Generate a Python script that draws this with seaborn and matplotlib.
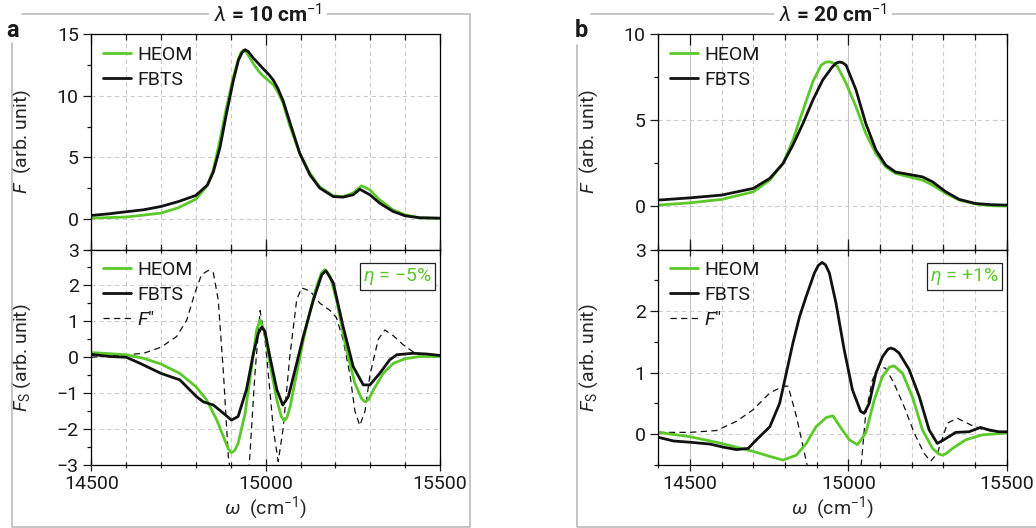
import numpy as np
import pandas as pd
import seaborn as sns
import matplotlib.pyplot as plt
from matplotlib.lines import Line2D
from matplotlib.ticker import MultipleLocator

# ---- panel a, top: F ----
a_top_heom_x = [14500, 14600, 14700, 14750, 14800, 14833, 14850, 14869, 14888, 14907, 14922, 14929, 14936, 14943,
                14950, 14965, 14980, 14993, 15010, 15022, 15035, 15050, 15070, 15098, 15127, 15155, 15194, 15222,
                15251, 15275, 15299, 15327, 15365, 15400, 15442, 15500]
a_top_heom_y = [0.05, 0.14, 0.46, 0.9, 1.6, 2.7, 4.0, 6.4, 9.1, 11.5, 13.0, 13.5, 13.7, 13.6,
                13.3, 12.6, 12.0, 11.6, 11.2, 10.9, 10.3, 9.4, 7.5, 5.3, 3.7, 2.6, 1.86, 1.8,
                2.1, 2.68, 2.35, 1.54, 0.73, 0.32, 0.08, 0.03]
a_top_fbts_x = [14500, 14550, 14600, 14650, 14700, 14750, 14800, 14833, 14850, 14869, 14888, 14907, 14922, 14932,
                14941, 14950, 14965, 14980, 14993, 15010, 15022, 15035, 15050, 15070, 15098, 15127, 15155, 15194,
                15222, 15251, 15270, 15299, 15327, 15365, 15400, 15442, 15500]
a_top_fbts_y = [0.27, 0.4, 0.57, 0.73, 1.0, 1.4, 1.9, 2.75, 3.8, 5.8, 8.6, 11.2, 12.9, 13.5,
                13.75, 13.6, 13.05, 12.6, 12.2, 11.7, 11.27, 10.6, 9.6, 7.8, 5.3, 3.57, 2.5, 1.8,
                1.76, 1.95, 2.4, 1.95, 1.27, 0.6, 0.24, 0.08, 0.05]

# ---- panel a, bottom: F_S ----
a_bot_heom_x = [14500, 14600, 14650, 14700, 14754, 14800, 14831, 14860, 14883, 14893, 14902, 14911, 14921, 14941,
                14960, 14974, 14984, 14998, 15012, 15032, 15045, 15053, 15061, 15070, 15089, 15108, 15127, 15146,
                15160, 15170, 15185, 15203, 15232, 15256, 15275, 15285, 15295, 15309, 15337, 15366, 15400, 15442,
                15500]
a_bot_heom_y = [0.13, 0.07, -0.03, -0.19, -0.45, -0.82, -1.19, -1.75, -2.31, -2.55, -2.66, -2.6, -2.4, -1.56,
                -0.26, 0.76, 1.04, 0.67, -0.17, -1.19, -1.65, -1.77, -1.68, -1.38, -0.45, 0.48, 1.27, 1.97,
                2.35, 2.44, 2.25, 1.6, 0.2, -0.73, -1.15, -1.24, -1.18, -0.91, -0.45, -0.17, -0.04, 0.02,
                0.02]
a_bot_fbts_x = [14500, 14554, 14600, 14640, 14700, 14754, 14802, 14821, 14850, 14879, 14902, 14921, 14945, 14965,
                14979, 14989, 14998, 15012, 15032, 15049, 15065, 15089, 15108, 15137, 15161, 15173, 15194, 15222,
                15251, 15280, 15299, 15327, 15356, 15376, 15423, 15462, 15500]
a_bot_fbts_y = [0.08, 0.02, 0.0, -0.17, -0.45, -0.63, -1.1, -1.24, -1.33, -1.56, -1.75, -1.65, -0.9, 0.11,
                0.67, 0.84, 0.72, 0.02, -0.9, -1.33, -1.1, -0.17, 0.58, 1.6, 2.3, 2.41, 2.07, 0.86,
                -0.26, -0.77, -0.77, -0.45, -0.07, 0.07, 0.11, 0.09, 0.05]
a_bot_f2_x = [14500, 14600, 14650, 14700, 14745, 14774, 14797, 14816, 14836, 14850, 14864, 14879, 14893, 14905,
              14925, 14945, 14953, 14969, 14984, 14998, 15008, 15022, 15036, 15050, 15069, 15089, 15103, 15127,
              15156, 15185, 15203, 15222, 15242, 15256, 15270, 15285, 15299, 15323, 15342, 15366, 15394, 15423,
              15462, 15500]
a_bot_f2_y = [0.0, 0.07, 0.11, 0.28, 0.58, 1.04, 1.79, 2.3, 2.42, 2.35, 1.6, -0.45, -2.77, -3.6,
              -4.5, -3.6, -3.0, -0.5, 1.3, 0.5, -0.5, -2.0, -2.9, -2.0, 0.0, 1.6, 1.93, 1.85,
              1.5, 1.3, 1.1, 0.5, -0.5, -1.5, -1.9, -1.5, -0.5, 0.5, 0.76, 0.6, 0.35, 0.15,
              0.05, 0.02]

# ---- panel b, top: F ----
b_top_heom_x = [14400, 14500, 14600, 14700, 14752, 14794, 14825, 14857, 14888, 14914, 14928, 14940, 14953, 14966,
                14993, 15024, 15055, 15087, 15118, 15149, 15192, 15234, 15266, 15308, 15350, 15402, 15455, 15500]
b_top_heom_y = [0.08, 0.21, 0.41, 0.85, 1.53, 2.5, 3.86, 5.6, 7.25, 8.2, 8.38, 8.4, 8.33, 8.12,
                7.15, 5.8, 4.24, 3.08, 2.3, 1.92, 1.72, 1.53, 1.24, 0.76, 0.37, 0.14, 0.04, 0.02]
b_top_fbts_x = [14400, 14500, 14600, 14700, 14752, 14794, 14825, 14857, 14888, 14919, 14950, 14962, 14972, 14982,
                14993, 15024, 15055, 15087, 15118, 15149, 15192, 15234, 15266, 15308, 15350, 15402, 15455, 15500]
b_top_fbts_y = [0.37, 0.5, 0.66, 1.05, 1.63, 2.5, 3.57, 4.83, 6.18, 7.34, 8.12, 8.33, 8.39, 8.35,
                8.2, 6.78, 4.83, 3.28, 2.4, 2.0, 1.86, 1.72, 1.43, 0.85, 0.41, 0.17, 0.1, 0.08]

# ---- panel b, bottom: F_S ----
b_bot_heom_x = [14400, 14500, 14600, 14700, 14752, 14794, 14836, 14867, 14898, 14930, 14951, 14977, 15003, 15029,
                15055, 15082, 15108, 15130, 15145, 15171, 15202, 15234, 15266, 15285, 15297, 15310, 15329, 15371,
                15423, 15500]
b_bot_heom_y = [0.03, -0.04, -0.15, -0.28, -0.36, -0.42, -0.34, -0.15, 0.12, 0.27, 0.3, 0.1, -0.09, -0.17,
                0.02, 0.56, 0.94, 1.09, 1.11, 0.99, 0.61, 0.07, -0.23, -0.32, -0.34, -0.31, -0.23, -0.09,
                -0.01, 0.02]
b_bot_fbts_x = [14400, 14448, 14500, 14563, 14605, 14647, 14684, 14710, 14752, 14783, 14804, 14825, 14846, 14867,
                14893, 14905, 14917, 14928, 14940, 14961, 14987, 15013, 15039, 15050, 15066, 15087, 15108, 15125,
                15134, 15145, 15160, 15192, 15224, 15255, 15281, 15308, 15339, 15381, 15417, 15444, 15475, 15500]
b_bot_fbts_y = [-0.05, -0.11, -0.13, -0.16, -0.21, -0.25, -0.23, -0.09, 0.12, 0.5, 0.99, 1.48, 1.91, 2.24,
                2.62, 2.74, 2.79, 2.75, 2.62, 2.13, 1.37, 0.72, 0.37, 0.34, 0.5, 0.99, 1.26, 1.38,
                1.4, 1.38, 1.32, 1.05, 0.61, 0.07, -0.15, -0.07, 0.03, 0.04, 0.11, 0.07, 0.04, 0.04]
b_bot_f2_x = [14400, 14500, 14584, 14647, 14700, 14752, 14794, 14810, 14836, 14857, 14873, 14900, 14950, 15000,
              15040, 15055, 15076, 15097, 15118, 15144, 15176, 15208, 15239, 15260, 15281, 15313, 15344, 15387,
              15428, 15500]
b_bot_f2_y = [0.03, 0.03, 0.06, 0.21, 0.4, 0.67, 0.78, 0.78, 0.29, -0.2, -0.58, -2.0, -3.0, -2.0,
              -0.53, 0.34, 0.88, 1.1, 1.07, 0.83, 0.45, 0.02, -0.31, -0.44, -0.31, 0.18, 0.26, 0.15,
              0.07, 0.02]

panel_titles = [r"$\lambda$ = 10 cm$^{-1}$", r"$\lambda$ = 20 cm$^{-1}$"]
panel_letters = ["a", "b"]
eta_labels = [r"$\eta$ = $-$5%", r"$\eta$ = +1%"]

GREEN = "#5cc92b"
W, H = 1036, 528

sns.set_theme(style="white")
plt.rcParams["font.family"] = ["Roboto", "DejaVu Sans"]
plt.rcParams.update({
    "font.size": 14,
    "mathtext.fontset": "custom",
    "mathtext.rm": "Roboto",
    "mathtext.it": "Roboto:italic",
    "mathtext.bf": "Roboto:bold",
    "axes.edgecolor": "black",
    "axes.linewidth": 0.9,
    "text.color": "#1a1a1a",
    "xtick.color": "#1a1a1a",
    "ytick.color": "#1a1a1a",
})

fig = plt.figure(figsize=(W / 100, H / 100), dpi=100)


def px_rect(left, top, right, bottom):
    return [left / W, 1 - bottom / H, (right - left) / W, (bottom - top) / H]


def line_df(x, y):
    return pd.DataFrame({"x": x, "y": y})


def style_axis(ax, xlim, ylim, ymaj, ymin, bottom_dir):
    ax.set_xlim(*xlim)
    ax.set_ylim(*ylim)
    ax.xaxis.set_major_locator(MultipleLocator(500))
    ax.xaxis.set_minor_locator(MultipleLocator(100))
    ax.yaxis.set_major_locator(MultipleLocator(ymaj))
    ax.yaxis.set_minor_locator(MultipleLocator(ymin))
    ax.grid(True, which="major", axis="x", color="#c4c4c4", linestyle="-", linewidth=0.8)
    ax.grid(True, which="minor", axis="x", color="#cccccc", linestyle=(0, (4, 3)), linewidth=0.8)
    ax.grid(True, which="major", axis="y", color="#cccccc", linestyle=(0, (4, 3)), linewidth=0.8)
    ax.set_axisbelow(True)
    ax.tick_params(axis="x", which="major", top=True, bottom=True, direction=bottom_dir, length=8, width=0.9)
    ax.tick_params(axis="x", which="minor", top=True, bottom=True, direction=bottom_dir, length=4, width=0.9)
    ax.tick_params(axis="y", which="major", left=True, right=False, direction="out", length=6, width=0.9, pad=3)
    ax.tick_params(axis="y", which="minor", left=True, right=False, direction="out", length=3, width=0.9)
    ax.tick_params(axis="both", labelsize=14)


panels = [
    dict(left=91.3, right=440.0, xlim=(14500, 15500), top_ylim=(-2.5, 15), bot_ylim=(-3, 3),
         top=[(a_top_heom_x, a_top_heom_y), (a_top_fbts_x, a_top_fbts_y)],
         bot=[(a_bot_heom_x, a_bot_heom_y), (a_bot_fbts_x, a_bot_fbts_y), (a_bot_f2_x, a_bot_f2_y)]),
    dict(left=658.3, right=1006.7, xlim=(14400, 15500), top_ylim=(-2.5, 10), bot_ylim=(-0.5, 3),
         top=[(b_top_heom_x, b_top_heom_y), (b_top_fbts_x, b_top_fbts_y)],
         bot=[(b_bot_heom_x, b_bot_heom_y), (b_bot_fbts_x, b_bot_fbts_y), (b_bot_f2_x, b_bot_f2_y)]),
]

for i, p in enumerate(panels):
    ax_top = fig.add_axes(px_rect(p["left"], 34.3, p["right"], 249.5))
    ax_bot = fig.add_axes(px_rect(p["left"], 249.5, p["right"], 465.0))

    # top: F
    (hx, hy), (fx, fy) = p["top"]
    sns.lineplot(data=line_df(hx, hy), x="x", y="y", ax=ax_top, color=GREEN, linewidth=2.0, label="HEOM")
    sns.lineplot(data=line_df(fx, fy), x="x", y="y", ax=ax_top, color="#111111", linewidth=2.0, label="FBTS")
    style_axis(ax_top, p["xlim"], p["top_ylim"], 5, 2.5, "in")
    ax_top.set_xticklabels([])
    ax_top.set_xlabel("")
    ax_top.set_ylabel(r"$F$  (arb. unit)", fontsize=14)
    ax_top.yaxis.set_label_coords(-0.167, 0.5)
    ax_top.set_yticks([0, 5, 10, 15] if i == 0 else [0, 5, 10])
    ax_top.legend(loc="upper left", frameon=False, fontsize=14, handlelength=1.45, handletextpad=0.3,
                  labelspacing=0.35, borderaxespad=0.3, borderpad=0.3)

    # bottom: F_S
    (hx, hy), (fx, fy), (dx, dy) = p["bot"]
    sns.lineplot(data=line_df(dx, dy), x="x", y="y", ax=ax_bot, color="#111111", linewidth=0.9,
                 linestyle=(0, (5, 3.5)), label="$F$\u2033")
    sns.lineplot(data=line_df(hx, hy), x="x", y="y", ax=ax_bot, color=GREEN, linewidth=2.0, label="HEOM")
    sns.lineplot(data=line_df(fx, fy), x="x", y="y", ax=ax_bot, color="#111111", linewidth=2.0, label="FBTS")
    style_axis(ax_bot, p["xlim"], p["bot_ylim"], 1, 0.5, "inout")
    ax_bot.set_xticks([14500, 15000, 15500])
    ax_bot.set_xlabel(r"$\omega$  (cm$^{-1}$)", fontsize=14, labelpad=1)
    ax_bot.set_ylabel(r"$F_{\mathrm{S}}$ (arb. unit)", fontsize=14)
    ax_bot.yaxis.set_label_coords(-0.167, 0.5)
    handles, labels = ax_bot.get_legend_handles_labels()
    order = [1, 2, 0]
    ax_bot.legend([handles[k] for k in order], [labels[k] for k in order], loc="upper left", frameon=False,
                  fontsize=14, handlelength=1.45, handletextpad=0.3, labelspacing=0.35,
                  borderaxespad=0.3, borderpad=0.3)
    ax_bot.text(0.977, 0.923, eta_labels[i], transform=ax_bot.transAxes, ha="right", va="top",
                color=GREEN, fontsize=14,
                bbox=dict(boxstyle="square,pad=0.15", facecolor="white", edgecolor="#222222", linewidth=0.9))

# grey panel frames with titles
frame_col = "#b5b5b5"


def fig_line(xs, ys):
    fig.add_artist(Line2D([x / W for x in xs], [1 - y / H for y in ys], color=frame_col, linewidth=1.1,
                          transform=fig.transFigure))


fig_line([22, 470, 470, 11.7, 11.7], [14, 14, 527, 527, 43])
fig_line([591, 1040, 1040], [14, 14, 527])
fig_line([576.7, 576.7, 1040], [45, 527, 527])

for cx, title in zip([268, 833], panel_titles):
    fig.text(cx / W, 1 - 14 / H, title, ha="center", va="center", fontsize=15, fontweight="bold",
             bbox=dict(boxstyle="square,pad=0.25", facecolor="white", edgecolor="none"))

for lx, letter in zip([6, 575], panel_letters):
    fig.text(lx / W, 1 - 37 / H, letter, ha="left", va="baseline", fontsize=17, fontweight="bold")

fig.savefig("out.png", dpi=100)
